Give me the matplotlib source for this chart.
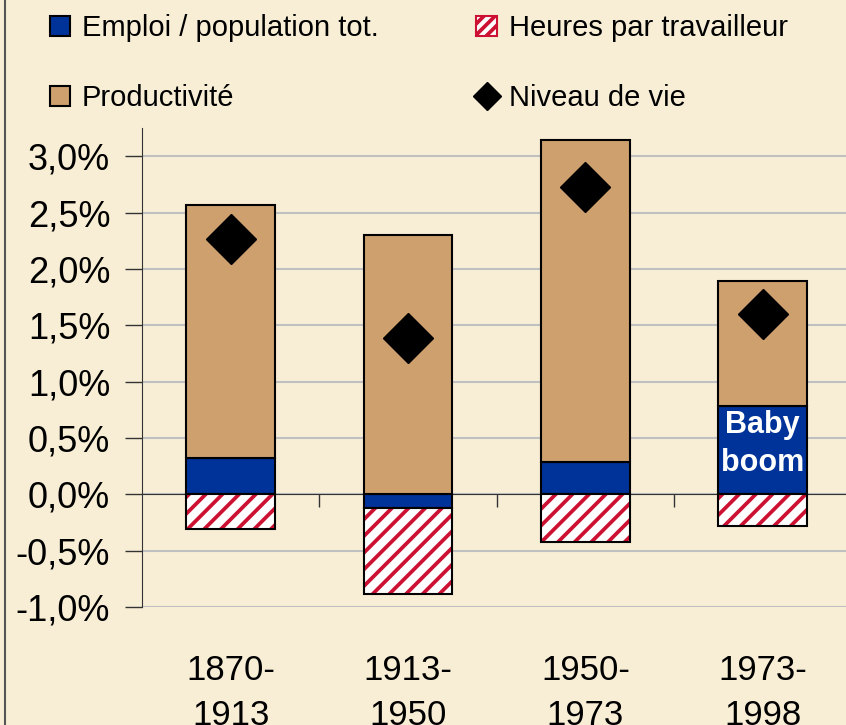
"""Stacked decomposition of growth in living standards, France 1870-1998"""
import matplotlib.pyplot as plt
from matplotlib.patches import Patch
from matplotlib.lines import Line2D
from matplotlib.ticker import FixedLocator

periods = ["1870-\n1913", "1913-\n1950", "1950-\n1973", "1973-\n1998"]
emploi = [0.32, -0.12, 0.29, 0.78]
heures = [-0.31, -0.77, -0.42, -0.28]
productivite = [2.25, 2.30, 2.86, 1.11]
niveau_vie = [2.27, 1.39, 2.73, 1.60]
yticks = [-1.0, -0.5, 0.0, 0.5, 1.0, 1.5, 2.0, 2.5, 3.0]

bg = "#F8EED6"
blue = "#003399"
tan = "#CDA06E"
red = "#CC1133"

plt.rcParams['font.family'] = ['Liberation Sans', 'DejaVu Sans']
plt.rcParams['hatch.linewidth'] = 2.7

fig = plt.figure(figsize=(8.46, 7.25), dpi=100, facecolor=bg)
ax = fig.add_axes([0.168, 0.163, 0.832, 0.66], facecolor=bg)

x = list(range(len(periods)))
w = 0.5

# positive and negative parts are stacked separately from zero
pos_base = [max(v, 0.0) for v in emploi]
neg_base = [min(v, 0.0) for v in emploi]

ax.bar(x, emploi, w, color=blue, edgecolor="black", linewidth=1.5, zorder=3)

ax.bar(x, heures, w, bottom=neg_base, color="white", edgecolor=red, hatch="//", linewidth=0, zorder=3)
ax.bar(x, heures, w, bottom=neg_base, fill=False, edgecolor="black", linewidth=1.5, zorder=4)

ax.bar(x, productivite, w, bottom=pos_base, color=tan, edgecolor="black", linewidth=1.5, zorder=3)

ax.plot(x, niveau_vie, linestyle="none", marker="D", markersize=25, color="black", zorder=5)

ax.text(3, emploi[3] * 0.57, "Baby\nboom", color="white", fontweight="bold", fontsize=22,
        ha="center", va="center", linespacing=1.35, zorder=6)

ax.set_ylim(-1.0, 3.25)
ax.set_xlim(-0.5, 3.47)
ax.set_yticks(yticks)
ax.set_yticklabels([("%.1f%%" % t).replace(".", ",") for t in yticks], fontsize=26)
ax.tick_params(axis="y", length=12, width=1, color="#333333", pad=11, direction="out")
ax.grid(axis="y", color="#C0C0C0", linewidth=1.5, zorder=0)

ax.spines['bottom'].set_position(('data', 0))
ax.spines['bottom'].set_color("#333333")
ax.spines['left'].set_color("#333333")
ax.spines['top'].set_visible(False)
ax.spines['right'].set_visible(False)
ax.set_xticks(x)
ax.set_xticklabels(periods, fontsize=25, linespacing=1.45)
ax.tick_params(axis="x", which="major", length=0, pad=115)
ax.xaxis.set_minor_locator(FixedLocator([0.5, 1.5, 2.5]))
ax.tick_params(axis="x", which="minor", length=9, width=1, color="#333333", direction="out")

handles = [
    Patch(facecolor=blue, edgecolor="black", linewidth=1.5),
    Patch(facecolor=tan, edgecolor="black", linewidth=1.5),
    Patch(facecolor="white", edgecolor=red, hatch="///", linewidth=1.5),
    Line2D([], [], linestyle="none", marker="D", markersize=14, color="black"),
]
labels = ["Emploi / population tot.", "Productivité", "Heures par travailleur", "Niveau de vie"]
leg = fig.legend(handles, labels, ncol=2, loc="upper left", bbox_to_anchor=(0.028, 1.017),
                 frameon=False, prop={'size': 21},
                 handlelength=0.7, handleheight=0.7, handletextpad=0.4, columnspacing=3.35,
                 labelspacing=1.45)

fig.add_artist(Line2D([0.006, 0.006], [0, 1], transform=fig.transFigure, color="#555555", linewidth=1.5))

fig.savefig("out.png", dpi=100, facecolor=bg)
